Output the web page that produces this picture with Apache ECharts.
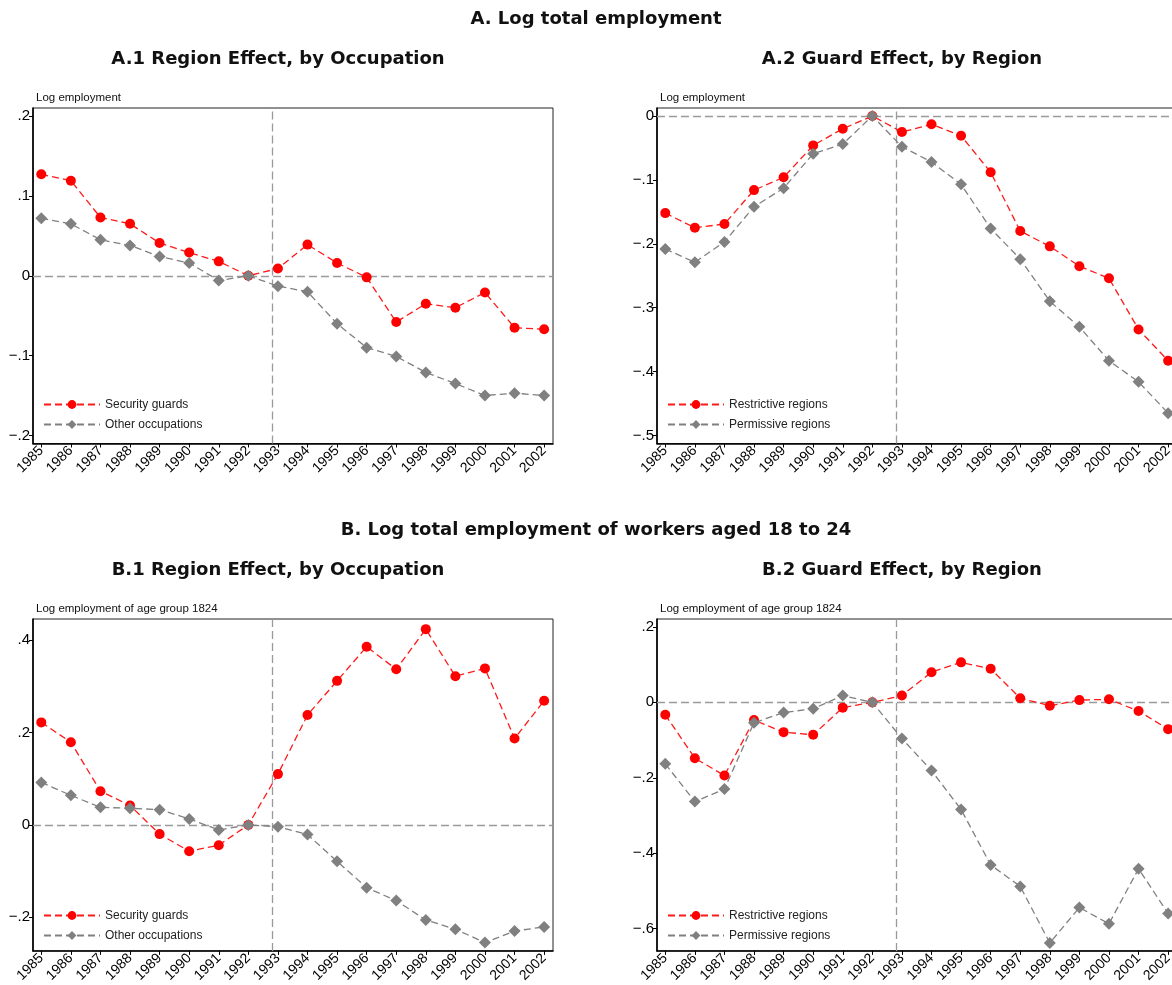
<!DOCTYPE html>
<html>
<head>
<meta charset="utf-8">
<script src="https://cdn.jsdelivr.net/npm/echarts@6/dist/echarts.min.js"></script>
<style>
html,body{margin:0;padding:0;background:#fff;overflow:hidden;}
#main{width:1190px;height:985px;}
</style>
</head>
<body>
<div id="main"></div>
<script>
const years = [1985,1986,1987,1988,1989,1990,1991,1992,1993,1994,1995,1996,1997,1998,1999,2000,2001,2002];

const a1Guards = [0.127, 0.119, 0.073, 0.065, 0.041, 0.029, 0.018, 0.000, 0.009, 0.039, 0.016, -0.002, -0.058, -0.035, -0.040, -0.021, -0.065, -0.067];
const a1Other  = [0.072, 0.065, 0.045, 0.038, 0.024, 0.016, -0.006, 0.000, -0.013, -0.020, -0.060, -0.090, -0.101, -0.121, -0.135, -0.150, -0.147, -0.150];

const a2Restrictive = [-0.152, -0.175, -0.169, -0.116, -0.096, -0.046, -0.020, 0.000, -0.025, -0.013, -0.031, -0.088, -0.180, -0.204, -0.235, -0.254, -0.334, -0.383];
const a2Permissive  = [-0.208, -0.229, -0.197, -0.142, -0.113, -0.059, -0.044, 0.000, -0.048, -0.072, -0.107, -0.176, -0.224, -0.290, -0.330, -0.383, -0.416, -0.465];

const b1Guards = [0.222, 0.179, 0.073, 0.042, -0.020, -0.057, -0.044, 0.000, 0.110, 0.238, 0.312, 0.386, 0.337, 0.424, 0.322, 0.339, 0.187, 0.269];
const b1Other  = [0.092, 0.064, 0.038, 0.036, 0.033, 0.013, -0.011, 0.000, -0.004, -0.021, -0.079, -0.136, -0.164, -0.206, -0.226, -0.255, -0.230, -0.221];

const b2Restrictive = [-0.033, -0.148, -0.194, -0.047, -0.079, -0.086, -0.014, 0.000, 0.018, 0.080, 0.106, 0.089, 0.011, -0.009, 0.006, 0.008, -0.023, -0.071];
const b2Permissive  = [-0.163, -0.263, -0.230, -0.054, -0.027, -0.017, 0.018, 0.000, -0.096, -0.181, -0.284, -0.431, -0.488, -0.638, -0.544, -0.587, -0.441, -0.560];

const a1Ticks = [-0.2, -0.1, 0, 0.1, 0.2];
const a2Ticks = [-0.5, -0.4, -0.3, -0.2, -0.1, 0];
const b1Ticks = [-0.2, 0, 0.2, 0.4];
const b2Ticks = [-0.6, -0.4, -0.2, 0, 0.2];

const sectionTitles = ['A. Log total employment', 'B. Log total employment of workers aged 18 to 24'];
const panelTitles = ['A.1 Region Effect, by Occupation', 'A.2 Guard Effect, by Region', 'B.1 Region Effect, by Occupation', 'B.2 Guard Effect, by Region'];
const yNames = ['Log employment', 'Log employment', 'Log employment of age group 1824', 'Log employment of age group 1824'];
const occNames = ['Security guards', 'Other occupations'];
const regNames = ['Restrictive regions', 'Permissive regions'];
const eventYear = 1992.8;

const panels = [
  {left: 33,  top: 108, ymin: -0.21,   ymax: 0.21,   ticks: a1Ticks, red: a1Guards,      gray: a1Other,      names: occNames},
  {left: 657, top: 108, ymin: -0.5125, ymax: 0.0125, ticks: a2Ticks, red: a2Restrictive, gray: a2Permissive, names: regNames},
  {left: 33,  top: 619, ymin: -0.273,  ymax: 0.446,  ticks: b1Ticks, red: b1Guards,      gray: b1Other,      names: occNames},
  {left: 657, top: 619, ymin: -0.659,  ymax: 0.221,  ticks: b2Ticks, red: b2Restrictive, gray: b2Permissive, names: regNames}
];

function fmtY(v) {
  const r = Math.round(v * 1000) / 1000;
  if (r === 0) return '0';
  let s = Math.abs(r).toString().replace(/^0/, '');
  return (r < 0 ? '\u2212' : '') + s;
}

const FONT = '"Liberation Sans", Arial, sans-serif';
const W = 520, H = 335.5;
const grids = [], xAxes = [], yAxes = [], series = [], legends = [], graphics = [];

panels.forEach((p, i) => {
  grids.push({left: p.left, top: p.top, width: W, height: H, show: true, borderColor: '#222', borderWidth: 1, containLabel: false});
  xAxes.push({
    type: 'value', gridIndex: i, min: 1984.72, max: 2002.3,
    axisLine: {show: true, onZero: false, lineStyle: {color: '#000', width: 1.6}},
    axisTick: {show: true, customValues: years, length: 4, lineStyle: {color: '#000', width: 1}},
    axisLabel: {customValues: years, rotate: 45, fontSize: 14, fontFamily: FONT, color: '#000', margin: 5,
                formatter: v => String(Math.round(v))},
    splitLine: {show: false}
  });
  yAxes.push({
    type: 'value', gridIndex: i, min: p.ymin, max: p.ymax,
    axisLine: {show: true, onZero: false, lineStyle: {color: '#000', width: 1.6}},
    axisTick: {show: true, customValues: p.ticks, length: 4, lineStyle: {color: '#000', width: 1}},
    axisLabel: {customValues: p.ticks, fontSize: 15, fontFamily: FONT, color: '#000', margin: 3, formatter: fmtY},
    splitLine: {show: false}
  });
  series.push({
    name: p.names[0], type: 'line', xAxisIndex: i, yAxisIndex: i,
    data: years.map((y, k) => [y, p.red[k]]),
    symbol: 'circle', symbolSize: 10, showSymbol: true,
    itemStyle: {color: '#ff0000'},
    lineStyle: {color: '#ff1a1a', width: 1.3, type: [7, 4]},
    z: 3,
    markLine: {
      silent: true, symbol: ['none', 'none'], label: {show: false},
      lineStyle: {color: '#9a9a9a', width: 1.3, type: [8, 4]},
      data: [{xAxis: eventYear}, {yAxis: 0}],
      z: 1
    }
  });
  series.push({
    name: p.names[1], type: 'line', xAxisIndex: i, yAxisIndex: i,
    data: years.map((y, k) => [y, p.gray[k]]),
    symbol: 'diamond', symbolSize: 12, showSymbol: true,
    itemStyle: {color: '#808080'},
    lineStyle: {color: '#808080', width: 1.3, type: [7, 4]},
    z: 4
  });
  legends.push({
    orient: 'vertical', left: p.left + 5, top: p.top + H - 50,
    itemWidth: 56, itemHeight: 11, itemGap: 8,
    data: p.names, selectedMode: false,
    textStyle: {fontSize: 12, fontFamily: FONT, color: '#222'}
  });
  graphics.push({type: 'text', left: p.left + 3, top: p.top - 16,
    style: {text: yNames[i], font: '11.5px "Liberation Sans"', fill: '#111'}});
  graphics.push({type: 'text', x: p.left + 245, y: p.top - 49,
    style: {text: panelTitles[i], font: 'bold 18px "DejaVu Sans"', fill: '#111', textAlign: 'center', textVerticalAlign: 'middle'}});
});

graphics.push({type: 'text', x: 596, y: 19,
  style: {text: sectionTitles[0], font: 'bold 18px "DejaVu Sans"', fill: '#111', textAlign: 'center', textVerticalAlign: 'middle'}});
graphics.push({type: 'text', x: 596, y: 530,
  style: {text: sectionTitles[1], font: 'bold 18px "DejaVu Sans"', fill: '#111', textAlign: 'center', textVerticalAlign: 'middle'}});

const chart = echarts.init(document.getElementById('main'), null, {renderer: 'canvas'});
chart.setOption({
  animation: false,
  backgroundColor: '#fff',
  grid: grids, xAxis: xAxes, yAxis: yAxes, series: series, legend: legends, graphic: graphics
});
</script>
</body>
</html>
